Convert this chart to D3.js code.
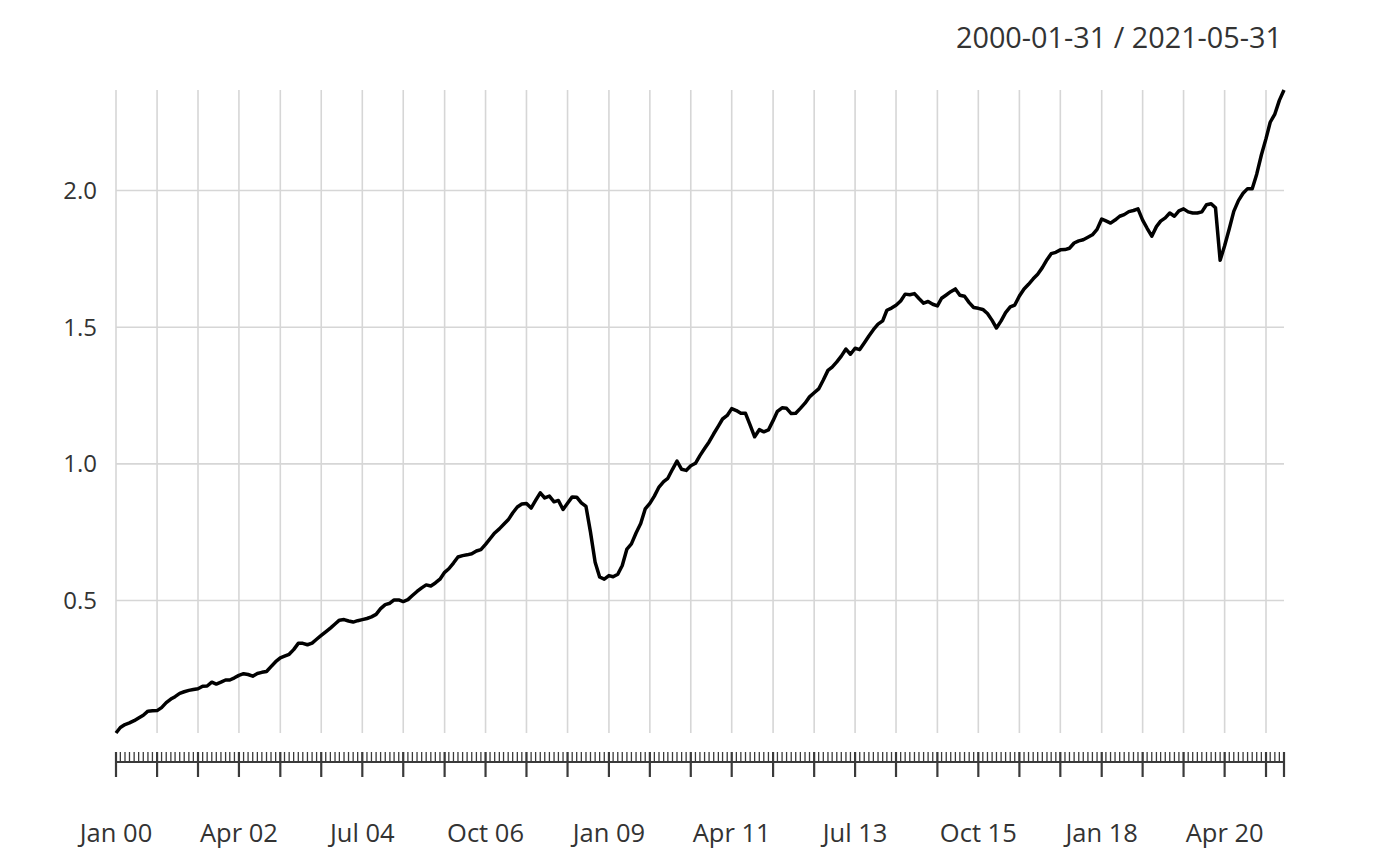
<!DOCTYPE html>
<html>
<head>
<meta charset="utf-8">
<script src="https://cdn.jsdelivr.net/npm/d3@7"></script>
<style>
  body { margin: 0; background: #fff; }
  text { font-family: "Open Sans", sans-serif; fill: #333; }
</style>
</head>
<body>
<div id="chart"></div>
<script>
// monthly series, Jan 2000 .. May 2021 (month ends)
const startMonth = "2000-01-01";
const endMonth = "2021-06-01";
const dateRangeLabel = "2000-01-31 / 2021-05-31";

const values = [
  0.015, 0.035, 0.046, 0.052, 0.060, 0.070, 0.080, 0.095, 0.096, 0.097, 0.108, 0.126,
  0.139, 0.148, 0.160, 0.166, 0.171, 0.174, 0.177, 0.186, 0.187, 0.201, 0.194, 0.201,
  0.209, 0.209, 0.217, 0.226, 0.232, 0.229, 0.223, 0.233, 0.237, 0.240, 0.258, 0.276,
  0.290, 0.296, 0.303, 0.320, 0.343, 0.343, 0.338, 0.344, 0.358, 0.372, 0.385, 0.399,
  0.414, 0.428, 0.430, 0.425, 0.421, 0.426, 0.430, 0.434, 0.440, 0.449, 0.470, 0.485,
  0.490, 0.502, 0.502, 0.496, 0.503, 0.518, 0.533, 0.546, 0.557, 0.553, 0.564, 0.578,
  0.603, 0.616, 0.637, 0.659, 0.664, 0.667, 0.671, 0.681, 0.686, 0.705, 0.726, 0.747,
  0.762, 0.778, 0.795, 0.820, 0.842, 0.853, 0.855, 0.838, 0.866, 0.894, 0.875, 0.882,
  0.861, 0.866, 0.833, 0.856, 0.879, 0.878, 0.857, 0.844, 0.750, 0.640, 0.586, 0.578,
  0.591, 0.587, 0.596, 0.628, 0.688, 0.707, 0.747, 0.782, 0.835, 0.855, 0.882, 0.915,
  0.935, 0.947, 0.980, 1.010, 0.980, 0.976, 0.993, 1.002, 1.030, 1.056, 1.080, 1.110,
  1.138, 1.164, 1.177, 1.202, 1.195, 1.185, 1.185, 1.142, 1.099, 1.125, 1.117, 1.124,
  1.158, 1.192, 1.205, 1.203, 1.184, 1.185, 1.203, 1.222, 1.245, 1.260, 1.274, 1.307,
  1.342, 1.354, 1.373, 1.394, 1.420, 1.401, 1.423, 1.418, 1.442, 1.468, 1.491, 1.511,
  1.523, 1.562, 1.570, 1.580, 1.596, 1.621, 1.619, 1.623, 1.605, 1.588, 1.594, 1.584,
  1.578, 1.606, 1.618, 1.630, 1.640, 1.617, 1.613, 1.590, 1.572, 1.569, 1.565, 1.550,
  1.525, 1.497, 1.523, 1.553, 1.574, 1.581, 1.614, 1.640, 1.657, 1.677, 1.694, 1.718,
  1.747, 1.769, 1.774, 1.783, 1.784, 1.789, 1.808, 1.816, 1.820, 1.829, 1.838, 1.858,
  1.896, 1.889, 1.881, 1.892, 1.906, 1.912, 1.923, 1.927, 1.933, 1.892, 1.862, 1.833,
  1.868, 1.888, 1.900, 1.918, 1.906, 1.926, 1.933, 1.922, 1.918, 1.918, 1.922, 1.948,
  1.952, 1.937, 1.745, 1.798, 1.860, 1.924, 1.963, 1.990, 2.007, 2.007, 2.060, 2.130,
  2.190, 2.250, 2.280, 2.330, 2.368
];

const yTicks = [0.5, 1.0, 1.5, 2.0];
const gridEvery = 9;    // months between vertical grid lines / major ticks
const labelEvery = 27;  // months between x labels

const width = 1400;
const height = 866;
const plot = { left: 116, right: 1284, top: 90, bottom: 733 };

// month-end dates
const dates = d3.utcMonth.range(new Date(startMonth), new Date(endMonth))
  .map(d => d3.utcDay.offset(d3.utcMonth.offset(d, 1), -1));
const data = dates.map((d, i) => ({ date: d, value: values[i] }));

const svg = d3.select("#chart")
  .append("svg")
  .attr("width", width)
  .attr("height", height);

const x = d3.scaleUtc()
  .domain(d3.extent(dates))
  .range([plot.left, plot.right]);

const y = d3.scaleLinear()
  .domain(d3.extent(values))
  .range([plot.bottom, plot.top]);

// title
svg.append("text")
  .attr("x", 1282)
  .attr("y", 48)
  .attr("text-anchor", "end")
  .style("font-size", "28.8px")
  .text(dateRangeLabel);

// vertical grid
const gridDates = dates.filter((d, i) => i % gridEvery === 0);
svg.append("g")
  .selectAll("line")
  .data(gridDates)
  .enter()
  .append("line")
  .attr("x1", d => x(d))
  .attr("x2", d => x(d))
  .attr("y1", plot.top)
  .attr("y2", plot.bottom)
  .attr("stroke", "#d6d6d6")
  .attr("stroke-width", 1.6);

// horizontal grid
svg.append("g")
  .selectAll("line")
  .data(yTicks)
  .enter()
  .append("line")
  .attr("x1", plot.left)
  .attr("x2", plot.right)
  .attr("y1", d => y(d))
  .attr("y2", d => y(d))
  .attr("stroke", "#d6d6d6")
  .attr("stroke-width", 1.6);

// y labels
svg.append("g")
  .selectAll("text")
  .data(yTicks)
  .enter()
  .append("text")
  .attr("x", 97)
  .attr("y", d => y(d))
  .attr("dy", "0.35em")
  .attr("text-anchor", "end")
  .style("font-size", "24px")
  .text(d => d3.format(".1f")(d));

// series line
const line = d3.line()
  .x(d => x(d.date))
  .y(d => y(d.value));

svg.append("path")
  .datum(data)
  .attr("fill", "none")
  .attr("stroke", "#000")
  .attr("stroke-width", 3.5)
  .attr("stroke-linejoin", "round")
  .attr("d", line);

// x axis: baseline, monthly minor ticks, major ticks, labels
const axisY = 762;
const axis = svg.append("g");

axis.append("line")
  .attr("x1", plot.left)
  .attr("x2", plot.right)
  .attr("y1", axisY)
  .attr("y2", axisY)
  .attr("stroke", "#3a3a3a")
  .attr("stroke-width", 2);

axis.selectAll(".minor")
  .data(dates)
  .enter()
  .append("line")
  .attr("class", "minor")
  .attr("x1", d => x(d))
  .attr("x2", d => x(d))
  .attr("y1", 752)
  .attr("y2", axisY)
  .attr("stroke", "#3a3a3a")
  .attr("stroke-width", 1.3);

const majorDates = gridDates.concat([dates[dates.length - 1]]);
axis.selectAll(".major")
  .data(majorDates)
  .enter()
  .append("line")
  .attr("class", "major")
  .attr("x1", d => x(d))
  .attr("x2", d => x(d))
  .attr("y1", 752)
  .attr("y2", 777)
  .attr("stroke", "#3a3a3a")
  .attr("stroke-width", 2.2);

const labelDates = dates.filter((d, i) => i % labelEvery === 0);
axis.selectAll("text")
  .data(labelDates)
  .enter()
  .append("text")
  .attr("x", d => x(d))
  .attr("y", 842)
  .attr("text-anchor", "middle")
  .style("font-size", "25.5px")
  .text(d => d3.utcFormat("%b %y")(d));
</script>
</body>
</html>
